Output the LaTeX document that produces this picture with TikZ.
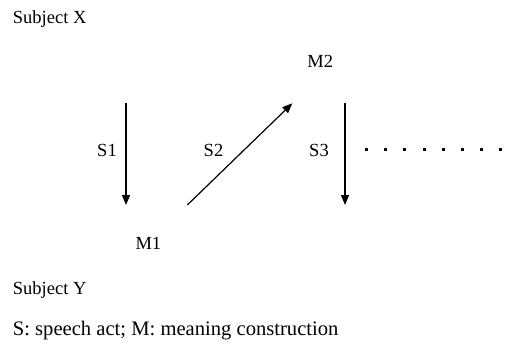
\documentclass[tikz,border=0pt]{standalone}
\usepackage{fontspec}
\setmainfont{Liberation Serif}
\usetikzlibrary{arrows.meta}
\begin{document}
\begin{tikzpicture}[x=1pt,y=-1pt,
  lbl/.style={inner sep=0pt,font=\fontsize{18.5}{22}\selectfont},
  legend/.style={inner sep=0pt,font=\fontsize{20.6}{24}\selectfont},
  conn/.style={line width=1.2pt,-{Triangle[length=10pt,width=8pt]}},
  dotmark/.style={fill=black}]
\useasboundingbox (0,0) rectangle (506,345);
\node[lbl,anchor=base west] (sx) at (12.7,24) {Subject X};
\node[lbl,anchor=base west] (sy) at (12.7,294) {Subject Y};
\node[legend,anchor=base west] (lg) at (12.7,335) {S: speech act; M: meaning construction};
\node[lbl,anchor=base] (m2) at (320.3,68) {M2};
\node[lbl,anchor=base] (m1) at (148.4,249) {M1};
\node[lbl,anchor=base] (s1) at (107,156.7) {S1};
\node[lbl,anchor=base] (s2) at (213.5,156.7) {S2};
\node[lbl,anchor=base] (s3) at (319,156.7) {S3};
\coordinate (a1s) at (126,102.7);
\coordinate (a1e) at (126,205);
\coordinate (a2s) at (187.3,205);
\coordinate (a2e) at (292.3,103.3);
\coordinate (a3s) at (345,102.7);
\coordinate (a3e) at (345,205);
\draw[conn] (a1s) -- (a1e);
\draw[conn] (a2s) -- (a2e);
\draw[conn] (a3s) -- (a3e);
\foreach \i in {0,...,7}{
  \fill[dotmark] ({366.7+19.1*\i-1.5},147.8) rectangle ++(3,3);
}
\end{tikzpicture}
\end{document}
